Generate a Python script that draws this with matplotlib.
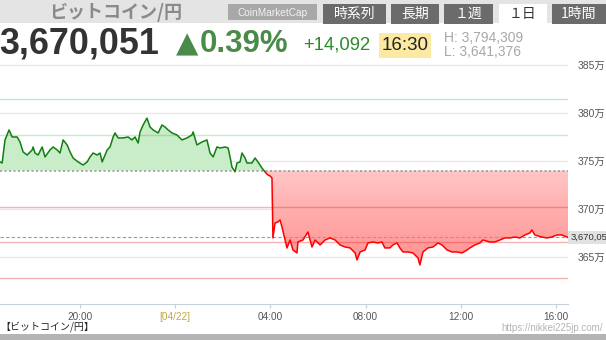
import matplotlib
matplotlib.use("Agg")
import matplotlib.pyplot as plt
import numpy as np
from matplotlib.patches import Rectangle
from matplotlib.path import Path
from matplotlib.colors import LinearSegmentedColormap
from matplotlib.transforms import blended_transform_factory

plt.rcParams["font.family"] = ["Liberation Sans", "Noto Sans CJK JP", "DejaVu Sans"]

# time in hours from 00:00 on 04/22 (negative = evening of 04/21), price in 万円
hours = [-7.35, -7.26, -7.14, -6.97, -6.84, -6.63, -6.51, -6.38, -6.21, -6.00,
         -5.96, -5.88, -5.75, -5.58, -5.46, -5.25, -5.12, -4.95, -4.83, -4.70,
         -4.53, -4.41, -4.28, -4.07, -3.86, -3.69, -3.57, -3.44, -3.27, -3.15,
         -3.06, -2.85, -2.73, -2.60, -2.52, -2.39, -2.18, -1.97, -1.81, -1.68,
         -1.55, -1.47, -1.34, -1.18, -1.05, -0.92, -0.71, -0.55, -0.42, -0.29,
         -0.13, 0.08, 0.29, 0.50, 0.71, 0.76, 0.92, 1.13, 1.34, 1.47,
         1.60, 1.76, 1.89, 2.10, 2.23, 2.31, 2.39, 2.52, 2.60, 2.73,
         2.81, 2.94, 3.02, 3.23, 3.36, 3.48, 3.65, 3.78, 3.90, 3.99,
         4.07, 4.11, 4.20, 4.32, 4.41, 4.49, 4.62, 4.70, 4.83, 4.95,
         5.12, 5.16, 5.37, 5.58, 5.75, 5.88, 6.09, 6.30, 6.51, 6.72,
         6.93, 7.14, 7.35, 7.56, 7.64, 7.77, 7.98, 8.10, 8.31, 8.52,
         8.69, 8.81, 9.02, 9.15, 9.32, 9.44, 9.57, 9.78, 9.99, 10.20,
         10.28, 10.41, 10.62, 10.83, 11.04, 11.21, 11.42, 11.63, 11.84, 12.05,
         12.26, 12.38, 12.59, 12.80, 12.93, 13.22, 13.43, 13.64, 13.85, 14.06,
         14.27, 14.48, 14.69, 14.90, 14.98, 15.11, 15.40, 15.61, 15.82, 16.03,
         16.24, 16.45, 16.50]
prices = [374.87, 374.76, 377.16, 378.20, 377.47, 377.47, 376.95, 375.91, 375.59, 376.12,
          376.43, 375.80, 375.59, 376.43, 375.39, 376.12, 376.43, 376.12, 375.80, 377.16,
          376.64, 375.91, 375.28, 374.87, 374.55, 374.87, 375.39, 375.80, 375.59, 375.80,
          374.87, 376.12, 376.43, 377.47, 377.89, 377.37, 377.37, 377.47, 377.16, 377.47,
          376.84, 377.99, 378.72, 379.43, 378.51, 378.20, 377.89, 378.72, 378.51, 378.20,
          377.89, 377.68, 377.16, 377.37, 377.68, 377.99, 376.64, 376.95, 377.16, 375.80,
          375.39, 376.43, 376.32, 376.43, 376.32, 375.39, 374.34, 373.85, 374.76, 374.87,
          375.80, 375.28, 374.76, 374.76, 375.28, 374.87, 374.24, 373.82, 373.51, 373.41,
          373.20, 366.95, 368.51, 368.62, 368.82, 368.09, 366.74, 365.91, 366.74, 365.70,
          365.39, 366.53, 366.74, 367.57, 366.01, 366.74, 366.22, 366.74, 366.95, 366.74,
          366.22, 366.01, 365.91, 365.39, 364.66, 365.49, 365.70, 366.43, 366.53, 366.43,
          366.53, 365.91, 365.91, 366.22, 366.43, 365.91, 365.49, 365.49, 365.39, 364.87,
          364.14, 365.49, 365.91, 366.01, 366.43, 366.22, 365.70, 365.49, 365.49, 365.39,
          365.70, 365.91, 366.22, 366.43, 366.74, 366.53, 366.53, 366.74, 366.95, 366.95,
          367.05, 366.95, 367.26, 367.47, 367.78, 367.26, 367.05, 366.95, 367.05, 367.26,
          367.26, 367.05, 367.0051]

base_price = 373.96
last_price = 367.0051
pct_steps = [2, 1, -1, -2, -3]
ytick_values = [365, 370, 375, 380, 385]
ytick_labels = ["365万", "370万", "375万", "380万", "385万"]
xtick_hours = [-4, 0, 4, 8, 12, 16]
xtick_labels = ["20:00", "[04/22]", "04:00", "08:00", "12:00", "16:00"]
tab_labels = ["時系列", "長期", "１週", "１日", "1時間"]

W, H = 606, 340
fig = plt.figure(figsize=(W / 100, H / 100), dpi=100)
fig.patch.set_facecolor("white")

# page layer in pixel coordinates
bg = fig.add_axes([0, 0, 1, 1], zorder=0)
bg.set_xlim(0, W)
bg.set_ylim(H, 0)
bg.axis("off")

bg.add_patch(Rectangle((0, 0), W, 23, fc="#e4e4e4", ec="none"))
bg.text(116, 12, "ビットコイン/円", ha="center", va="center", fontsize=13,
        color="#8a8a8a", weight="bold", family=["Noto Sans CJK JP", "DejaVu Sans"])
bg.add_patch(Rectangle((228, 4), 89, 16, fc="#a8a8a8", ec="none"))
bg.text(272.5, 12.5, "CoinMarketCap", ha="center", va="center", fontsize=7.3, color="#f2f2f2")

tab_x = [(323, 386), (391, 439), (444, 493), (499, 547), (552, 606)]
for (x0, x1), lab in zip(tab_x, tab_labels):
    active = lab == "１日"
    bg.add_patch(Rectangle((x0, 3.5), x1 - x0, 20 if not active else 22,
                           fc="white" if active else "#6b6b6b", ec="none"))
    bg.text((x0 + x1) / 2, 14, lab, ha="center", va="center", fontsize=10,
            color="#333333" if active else "white",
            family=["Noto Sans CJK JP", "DejaVu Sans"])

bg.text(-1, 44, "3,670,051", ha="left", va="center", fontsize=25.8, weight="bold", color="#333333")
bg.text(176, 44, "▲", ha="left", va="center", fontsize=21, color="#4a8b4a",
        family=["DejaVu Sans"])
bg.text(200, 44, "0.39%", ha="left", va="center", fontsize=22.5, weight="bold", color="#4a8b4a")
bg.text(303, 45, "+14,092", ha="left", va="center", fontsize=13.3, color="#2b8c2b")
bg.add_patch(Rectangle((379, 33), 52, 25, fc="#fce9a2", ec="none"))
bg.text(405, 45.5, "16:30", ha="center", va="center", fontsize=13.5, color="#222222")
bg.text(444, 38.5, "H: 3,794,309", ha="left", va="center", fontsize=10, color="#a8a8a8")
bg.text(444, 52, "L: 3,641,376", ha="left", va="center", fontsize=10, color="#a8a8a8")

bg.text(0, 327, "【ビットコイン/円】", ha="left", va="center", fontsize=7.2, color="#222222",
        family=["Noto Sans CJK JP", "DejaVu Sans"])
bg.text(603, 328, "https://nikkei225jp.com/", ha="right", va="center", fontsize=7, color="#b4b4b4")
bg.add_patch(Rectangle((0, 334), W, 6, fc="#b4b4b4", ec="none"))

# chart
ax = fig.add_axes([0, 36 / H, 568 / W, 242 / H], zorder=1)
ax.patch.set_alpha(0)

h = np.array(hours)
p = np.array(prices)

ax.fill_between(h, p, base_price, where=p >= base_price, interpolate=True,
                color="#c9ecc9", lw=0, zorder=1)
red = ax.fill_between(h, p, base_price, where=p <= base_price, interpolate=True,
                      facecolor="none", edgecolor="none")
red_path = Path.make_compound_path(*red.get_paths())
grad = np.linspace(0, 1, 256).reshape(-1, 1)
cmap = LinearSegmentedColormap.from_list("redfade", ["#ffc6c6", "#ff9090"])
im = ax.imshow(grad, extent=[h[0], h[-1], p.min(), base_price], origin="upper",
               cmap=cmap, aspect="auto", zorder=1, interpolation="bilinear")
im.set_clip_path(red_path, transform=ax.transData)

for k in pct_steps:
    level = base_price * (1 + k / 100)
    if k > 0:
        ax.axhline(level, color=(0.3, 0.7, 0.3), alpha=0.3, lw=1, zorder=2)
    else:
        ax.axhline(level, color=(0.92, 0.15, 0.15), alpha=0.35, lw=1, zorder=2)

ax.axhline(base_price, color="#9a9a9a", lw=1.2, ls=(0, (1.2, 1.5)), zorder=3)
ax.axhline(last_price, color="#9a9a9a", lw=0.8, ls=(0, (3, 2)), zorder=3)

clip_up = Rectangle((-10, base_price), 40, 50, transform=ax.transData)
clip_dn = Rectangle((-10, base_price - 50), 40, 50, transform=ax.transData)
l_up, = ax.plot(h, p, color="#117f11", lw=1.1, zorder=4)
l_up.set_clip_path(clip_up)
l_dn, = ax.plot(h, p, color="#ff0000", lw=1.1, zorder=4)
l_dn.set_clip_path(clip_dn)

ax.set_xlim(-7.35, 16.5)
ax.set_ylim(360.07, 385.28)

ax.yaxis.tick_right()
ax.set_yticks(ytick_values, ytick_labels)
ax.tick_params(axis="y", length=0, pad=7, labelsize=7.5, labelcolor="#555555")
ax.grid(axis="y", color="#e8e8e8", lw=1)
ax.set_axisbelow(True)

ax.set_xticks(xtick_hours, xtick_labels)
ax.tick_params(axis="x", length=3, color="#c5d0dc", labelsize=7.2, labelcolor="#555555", pad=3)
ax.get_xticklabels()[1].set_color("#c8a83c")

for side in ["top", "left", "right"]:
    ax.spines[side].set_visible(False)
ax.spines["bottom"].set_color("#c5d0dc")

ax.text(1.004, last_price, "3,670,05", transform=blended_transform_factory(ax.transAxes, ax.transData),
        ha="left", va="center", fontsize=6.8, color="#333333", clip_on=False, zorder=5,
        bbox=dict(boxstyle="square,pad=0.2", fc="#e2e2e2", ec="none"))

fig.savefig("out.png", dpi=100)
